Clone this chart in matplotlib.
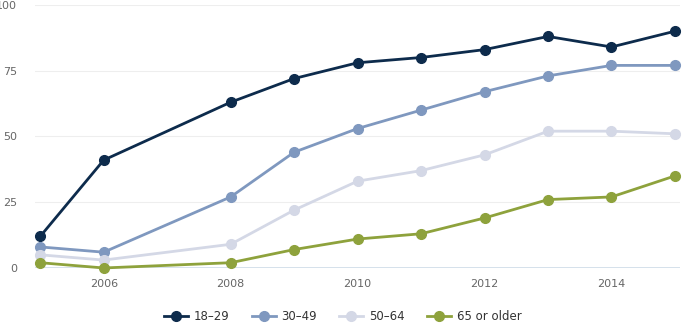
import matplotlib.pyplot as plt

years = [2005, 2006, 2008, 2009, 2010, 2011, 2012, 2013, 2014, 2015]
age_18_29 = [12, 41, 63, 72, 78, 80, 83, 88, 84, 90]
age_30_49 = [8, 6, 27, 44, 53, 60, 67, 73, 77, 77]
age_50_64 = [5, 3, 9, 22, 33, 37, 43, 52, 52, 51]
age_65_plus = [2, 0, 2, 7, 11, 13, 19, 26, 27, 35]

labels = ['18\u201329', '30\u201349', '50\u201364', '65 or older']
colors = ['#0d2b4c', '#7f98bf', '#d4d8e6', '#8ea23c']
series = [age_18_29, age_30_49, age_50_64, age_65_plus]

fig = plt.figure(figsize=(6.89, 3.26), dpi=100)
ax = fig.add_axes([0.051, 0.178, 0.936, 0.807])

for vals, c, lab in zip(series, colors, labels):
    ax.plot(years, vals, color=c, lw=2, marker='o', ms=7, label=lab,
            clip_on=False, zorder=3)

ax.set_xlim(2004.92, 2015.08)
ax.set_ylim(0, 100)
ax.set_yticks([0, 25, 50, 75, 100])
ax.set_xticks([2006, 2008, 2010, 2012, 2014])
ax.grid(axis='y', color='#eeeeee', lw=0.8)
ax.axhline(0, color='#cddbe8', lw=1.2, zorder=1)
for s in ax.spines.values():
    s.set_visible(False)
ax.tick_params(length=0, labelsize=8, labelcolor='#666666')
ax.tick_params(axis='y', pad=13)
ax.tick_params(axis='x', pad=8)

ax.legend(loc='upper center', bbox_to_anchor=(0.477, -0.12), ncol=4,
          frameon=False, fontsize=8.5, labelcolor='#333333',
          handlelength=2.0, columnspacing=1.9, handletextpad=0.5)

fig.savefig('out.png', dpi=100)
